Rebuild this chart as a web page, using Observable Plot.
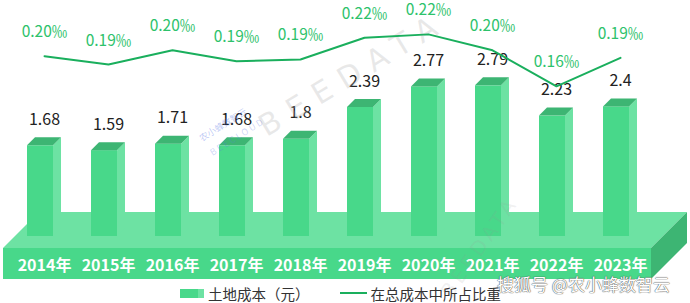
<!DOCTYPE html>
<html>
<head>
<meta charset="utf-8">
<script src="https://cdn.jsdelivr.net/npm/d3@7"></script>
<script src="https://cdn.jsdelivr.net/npm/@observablehq/plot@0.6"></script>
<style>
  html, body { margin: 0; padding: 0; background: #fff; }
  body { width: 690px; height: 303px; overflow: hidden; font-family: "Noto Sans CJK SC", "Noto Sans", sans-serif; }
  #wrap { position: relative; width: 690px; height: 283px; }
  #wrap svg { position: absolute; left: 0; top: 0; }
  .wm { position: absolute; white-space: nowrap; pointer-events: none; }
  #legend { position: relative; height: 20px; display: flex; align-items: center; padding-left: 180px; font-size: 14.5px; color: #333; }
  .sw-bar { width: 24px; height: 9px; background: linear-gradient(to right, #48d88a 0 75%, #6de2a3 75% 100%); margin-right: 4px; }
  .sw-line { width: 27px; height: 2px; background: #1aaf5d; margin-left: 30px; margin-right: 4px; }
</style>
</head>
<body>
<div id="wrap"></div>
<div id="legend">
  <div class="sw-bar"></div><span>土地成本（元）</span>
  <div class="sw-line"></div><span>在总成本中所占比重</span>
</div>
<script>
// ---- data ----
const years = ["2014年","2015年","2016年","2017年","2018年","2019年","2020年","2021年","2022年","2023年"];
const landCost = [1.68, 1.59, 1.71, 1.68, 1.8, 2.39, 2.77, 2.79, 2.23, 2.4];
const costShare = [0.196, 0.186, 0.203, 0.190, 0.192, 0.218, 0.222, 0.203, 0.160, 0.194]; // ‰

// ---- styles ----
const FONT = '"Noto Sans CJK SC", "Noto Sans", sans-serif';
const C_FRONT = "#48d88a", C_SIDE = "#6de2a3", C_TOP = "#3db573";
const C_LINE = "#1aaf5d", C_LINE_TXT = "#2dc26b";

const W = 690, H = 283;
const xScale = {type: "linear", domain: [0, 9], range: [44, 620]};
const yScale = {type: "linear", domain: [0, 4], range: [236, 20]};
const XPX = (620 - 44) / 9, YPX = (236 - 20) / 4;   // pixels per unit
const HALF = 17 / XPX, DEPTH_X = 8 / XPX, DEPTH_Y = 8 / YPX;

const bars = years.map((y, i) => ({i, year: y, v: landCost[i]}));

// side and top faces as area polygons in data units
const sides = [], tops = [];
bars.forEach(d => {
  const l = d.i - HALF, r = d.i + HALF - DEPTH_X;
  sides.push({k: d.i, x: r, y1: 0, y2: d.v});
  sides.push({k: d.i, x: r + DEPTH_X, y1: DEPTH_Y, y2: d.v + DEPTH_Y});
  tops.push({k: d.i, x: l, y1: d.v, y2: d.v});
  tops.push({k: d.i, x: l + DEPTH_X, y1: d.v, y2: d.v + DEPTH_Y});
  tops.push({k: d.i, x: r, y1: d.v, y2: d.v + DEPTH_Y});
  tops.push({k: d.i, x: r + DEPTH_X, y1: d.v + DEPTH_Y, y2: d.v + DEPTH_Y});
});

// decorative platform (sizes in px converted to units)
const pL = -41 / XPX, pR = 9 + 31 / XPX;
const pTop = -12 / YPX, pBot = -43 / YPX, pDX = 36 / XPX, pDY = 36 / YPX;
const platTop = [
  {x: pL, y1: pTop, y2: pTop},
  {x: pL + pDX, y1: pTop, y2: pTop + pDY},
  {x: pR, y1: pTop, y2: pTop + pDY},
  {x: pR + pDX, y1: pTop + pDY, y2: pTop + pDY}
];
const platSide = [
  {x: pR, y1: pBot, y2: pTop},
  {x: pR + pDX, y1: pBot + pDY, y2: pTop + pDY}
];

const barPlot = Plot.plot({
  width: W, height: H,
  marginTop: 0, marginRight: 0, marginBottom: 0, marginLeft: 0,
  x: {...xScale, axis: null},
  y: {...yScale, axis: null},
  style: {fontFamily: FONT, background: "transparent"},
  marks: [
    Plot.areaY(platTop, {x: "x", y1: "y1", y2: "y2", fill: C_SIDE}),
    Plot.areaY(platSide, {x: "x", y1: "y1", y2: "y2", fill: C_TOP}),
    Plot.rect([0], {x1: () => pL, x2: () => pR, y1: () => pBot, y2: () => pTop, fill: C_FRONT}),
    Plot.areaY(sides, {x: "x", y1: "y1", y2: "y2", z: "k", fill: C_SIDE}),
    Plot.rect(bars, {x1: d => d.i - HALF, x2: d => d.i + HALF - DEPTH_X, y1: 0, y2: "v", fill: C_FRONT}),
    Plot.areaY(tops, {x: "x", y1: "y1", y2: "y2", z: "k", fill: C_TOP}),
    Plot.text(bars, {x: "i", y: "v", text: d => String(d.v), dy: -26, fill: "#222", fontSize: 16}),
    Plot.text(bars, {x: "i", y: 0, text: "year", dy: 29, fill: "#fff", fontSize: 16, fontWeight: "bold"})
  ]
});

const share = years.map((y, i) => ({i, s: costShare[i]}));
const linePlot = Plot.plot({
  width: W, height: H,
  marginTop: 0, marginRight: 0, marginBottom: 0, marginLeft: 0,
  x: {...xScale, axis: null},
  y: {type: "linear", domain: [0, 0.25], range: [220, 10.4], axis: null},
  style: {fontFamily: FONT, background: "transparent"},
  marks: [
    Plot.line(share, {x: "i", y: "s", stroke: C_LINE, strokeWidth: 2}),
    Plot.text(share, {x: "i", y: "s", text: d => d.s.toFixed(2) + "‰", dy: -24, fill: C_LINE_TXT, fontSize: 15.5})
  ]
});

const wrap = document.getElementById("wrap");
wrap.appendChild(barPlot);

// watermarks
function wm(text, css) {
  const d = document.createElement("div");
  d.className = "wm";
  d.textContent = text;
  Object.assign(d.style, css);
  wrap.appendChild(d);
}
wm("BEEDATA", {left: "246px", top: "56px", fontSize: "30px", letterSpacing: "11px", color: "rgba(175,175,175,0.28)", transform: "rotate(-31deg)", fontFamily: "DejaVu Sans"});
wm("农小蜂数智云", {left: "196px", top: "118px", fontSize: "9px", color: "rgba(90,120,230,0.4)", transform: "rotate(-32deg)"});
wm("BEECLOUD", {left: "206px", top: "130px", fontSize: "9px", letterSpacing: "2px", color: "rgba(90,120,230,0.3)", transform: "rotate(-32deg)"});
wm("BEEDATA", {left: "420px", top: "235px", fontSize: "20px", letterSpacing: "4px", color: "rgba(150,150,150,0.15)", transform: "rotate(-55deg)", fontFamily: "DejaVu Sans"});

wrap.appendChild(linePlot);

wm("搜狐号 @农小蜂数智云", {left: "497px", top: "271px", fontSize: "17px", color: "#fff", textShadow: "0 0 1px #444, 0 0 1px #444", zIndex: 5});
</script>
</body>
</html>
